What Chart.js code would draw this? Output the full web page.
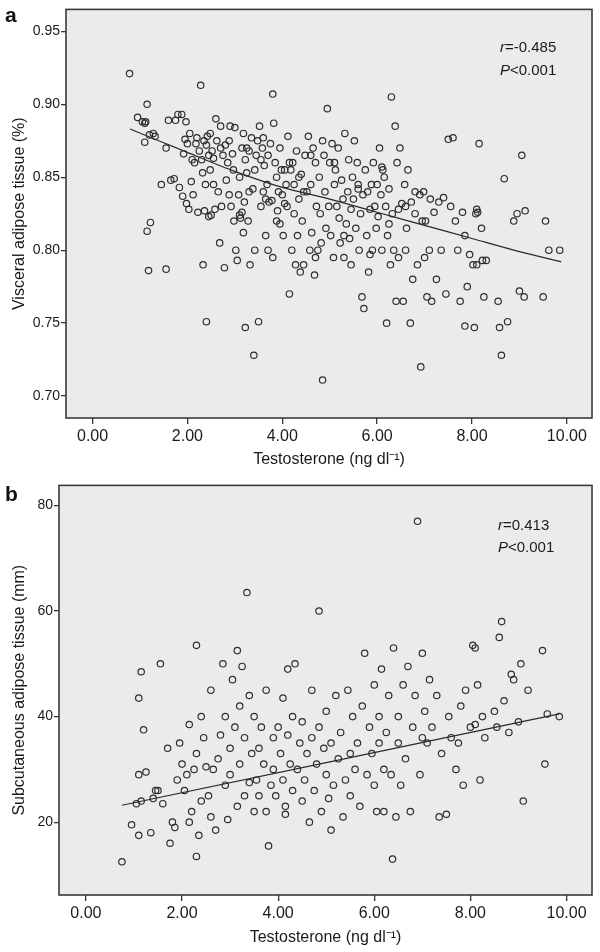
<!DOCTYPE html>
<html>
<head>
<meta charset="utf-8">
<script src="https://cdn.jsdelivr.net/npm/chart.js@4.4.1/dist/chart.umd.min.js"></script>
<style>
  html, body { margin: 0; padding: 0; background: #ffffff; }
  #wrap { position: relative; width: 600px; height: 952px; }
  canvas { position: absolute; left: 0; }
</style>
</head>
<body>
<div id="wrap">
  <canvas id="ca" width="600" height="476" style="top:0px"></canvas>
  <canvas id="cb" width="600" height="476" style="top:476px"></canvas>
</div>
<script>
// ---------- DATA ----------
const xTicks = [0, 2, 4, 6, 8, 10];
const yTicksA = [0.70, 0.75, 0.80, 0.85, 0.90, 0.95];
const yTicksB = [20, 40, 60, 80];

// Panel a: testosterone vs visceral adipose tissue (%)
const visceral = [
  [0.78,0.921],[0.95,0.891],
  [1.05,0.888],[1.10,0.887],[1.12,0.888],[1.15,0.900],[1.20,0.879],[1.28,0.880],[1.32,0.878],[1.10,0.874],[1.15,0.813],[1.22,0.819],[1.18,0.786],[1.45,0.845],
  [1.55,0.787],[1.55,0.870],[1.60,0.889],[1.65,0.848],[1.72,0.849],[1.75,0.889],[1.80,0.893],[1.88,0.893],[1.83,0.843],[1.90,0.837],[1.92,0.866],[1.95,0.876],[1.98,0.832],[1.97,0.888],
  [2.00,0.873],[2.03,0.828],[2.05,0.880],[2.08,0.847],[2.10,0.862],[2.12,0.838],[2.15,0.860],[2.18,0.873],[2.20,0.877],[2.22,0.826],[2.25,0.868],[2.28,0.913],[2.30,0.862],[2.32,0.853],[2.33,0.790],[2.35,0.875],[2.36,0.827],[2.38,0.845],[2.40,0.751],[2.40,0.872],[2.42,0.878],[2.45,0.823],[2.45,0.865],[2.48,0.880],[2.48,0.855],[2.50,0.824],
  [2.52,0.868],[2.55,0.863],[2.58,0.828],[2.60,0.890],[2.62,0.875],[2.65,0.840],[2.68,0.805],[2.70,0.885],[2.72,0.830],[2.75,0.865],[2.78,0.788],[2.80,0.872],[2.82,0.848],[2.85,0.860],[2.88,0.838],[2.90,0.885],[2.92,0.830],[2.95,0.866],[2.98,0.820],[2.97,0.855],[2.55,0.845],[2.70,0.870],[2.88,0.875],
  [3.00,0.884],[3.02,0.800],[3.05,0.793],[3.08,0.838],[3.10,0.824],[3.12,0.822],[3.15,0.826],[3.15,0.870],[3.18,0.880],[3.20,0.833],[3.22,0.747],[3.22,0.862],[3.25,0.853],[3.28,0.820],[3.30,0.868],[3.32,0.790],[3.35,0.877],[3.38,0.842],[3.40,0.728],[3.42,0.800],[3.45,0.865],[3.48,0.875],[3.50,0.751],[3.10,0.850],[3.18,0.812],[3.30,0.840],[3.42,0.855],[3.25,0.870],
  [3.52,0.885],[3.55,0.862],[3.58,0.870],[3.60,0.840],[3.62,0.858],[3.65,0.835],[3.68,0.845],[3.70,0.865],[3.72,0.833],[3.75,0.873],[3.78,0.834],[3.80,0.907],[3.82,0.887],[3.85,0.860],[3.88,0.850],[3.90,0.827],[3.92,0.840],[3.95,0.818],[3.98,0.855],[3.55,0.830],[3.65,0.810],[3.70,0.800],[3.80,0.795],[3.88,0.820],[3.95,0.870],[3.60,0.877],
  [4.00,0.838],[4.02,0.810],[4.05,0.832],[4.08,0.845],[4.10,0.830],[4.12,0.878],[4.15,0.770],[4.18,0.855],[4.20,0.800],[4.22,0.860],[4.25,0.845],[4.28,0.790],[4.30,0.868],[4.32,0.810],[4.35,0.835],[4.38,0.785],[4.40,0.852],[4.42,0.820],[4.45,0.790],[4.48,0.865],[4.05,0.855],[4.15,0.860],[4.25,0.825],[4.35,0.850],[4.45,0.840],
  [4.52,0.840],[4.55,0.878],[4.58,0.800],[4.60,0.845],[4.62,0.812],[4.65,0.870],[4.68,0.783],[4.70,0.860],[4.72,0.830],[4.75,0.800],[4.78,0.850],[4.80,0.825],[4.82,0.805],[4.85,0.711],[4.88,0.865],[4.90,0.840],[4.92,0.815],[4.95,0.897],[4.98,0.830],[4.60,0.865],[4.70,0.795],[4.85,0.875],
  [5.00,0.860],[5.02,0.810],[5.05,0.873],[5.08,0.795],[5.10,0.845],[5.12,0.855],[5.15,0.830],[5.18,0.870],[5.20,0.822],[5.22,0.805],[5.25,0.848],[5.28,0.835],[5.30,0.795],[5.32,0.880],[5.35,0.818],[5.38,0.840],[5.40,0.862],[5.42,0.808],[5.45,0.828],[5.48,0.850],[5.10,0.860],[5.30,0.810],[5.45,0.790],
  [5.50,0.835],[5.52,0.875],[5.55,0.815],[5.58,0.860],[5.60,0.842],[5.62,0.800],[5.65,0.825],[5.68,0.768],[5.70,0.838],[5.72,0.760],[5.75,0.855],[5.78,0.810],[5.80,0.840],[5.82,0.785],[5.85,0.828],[5.88,0.845],[5.90,0.800],[5.92,0.860],[5.95,0.830],[5.98,0.815],[5.60,0.845],[5.85,0.797],
  [6.00,0.845],[6.02,0.823],[6.05,0.870],[6.08,0.838],[6.10,0.857],[6.12,0.855],[6.15,0.850],[6.18,0.830],[6.20,0.750],[6.22,0.810],[6.25,0.842],[6.28,0.790],[6.30,0.905],[6.32,0.825],[6.35,0.800],[6.38,0.885],[6.40,0.765],[6.42,0.860],[6.45,0.828],[6.48,0.870],[6.10,0.800],[6.25,0.818],[6.45,0.795],
  [6.52,0.832],[6.55,0.765],[6.58,0.845],[6.60,0.830],[6.62,0.815],[6.65,0.855],[6.70,0.750],[6.72,0.833],[6.75,0.780],[6.80,0.840],[6.85,0.790],[6.90,0.838],[6.92,0.720],[6.95,0.820],[6.98,0.840],[6.60,0.800],[6.80,0.825],
  [7.00,0.795],[7.02,0.820],[7.05,0.768],[7.10,0.800],[7.12,0.835],[7.15,0.765],[7.20,0.826],[7.25,0.780],[7.30,0.833],[7.35,0.800],[7.40,0.836],[7.45,0.770],
  [7.50,0.876],[7.55,0.830],[7.60,0.877],[7.65,0.820],[7.70,0.800],[7.75,0.765],[7.80,0.826],[7.85,0.810],[7.90,0.775],[7.95,0.797],[7.85,0.748],
  [8.02,0.790],[8.05,0.747],[8.08,0.825],[8.10,0.828],[8.12,0.826],[8.15,0.873],[8.20,0.815],[8.22,0.793],[8.25,0.768],[8.30,0.793],[8.10,0.790],
  [8.55,0.765],[8.58,0.747],[8.62,0.728],[8.68,0.849],[8.75,0.751],[8.88,0.820],[8.95,0.825],
  [9.00,0.772],[9.05,0.865],[9.10,0.768],[9.12,0.827],[9.50,0.768],[9.55,0.820],[9.62,0.800],[9.85,0.800]
];
const fitA = [[0.79,0.883],[2.0,0.867],[3.0,0.854],[4.0,0.843],[5.0,0.835],[6.0,0.826],[7.0,0.817],[8.0,0.808],[9.0,0.799],[9.88,0.792]];

// Panel b: testosterone vs subcutaneous adipose tissue (mm)
const subcut = [
  [0.75,12.5],[2.30,13.5],[6.38,13.0],
  [0.95,19.5],[1.05,23.5],[1.10,29.0],[1.15,24.0],[1.10,17.5],[1.15,48.5],[1.10,43.5],[1.20,37.5],[1.25,29.5],[1.35,18.0],[1.40,24.5],[1.45,26.0],[1.55,50.0],[1.50,26.0],[1.60,23.5],[1.70,34.0],[1.75,16.0],[1.80,20.0],[1.85,19.0],[1.90,28.0],[1.95,35.0],
  [2.00,31.0],[2.05,26.0],[2.10,29.0],[2.15,20.0],[2.15,38.5],[2.20,22.0],[2.25,30.0],[2.30,53.5],[2.30,33.0],[2.35,17.5],[2.40,24.0],[2.40,40.0],[2.45,36.0],[2.50,30.5],[2.55,25.0],[2.60,21.0],[2.60,45.0],[2.65,30.0],[2.70,18.5],[2.75,32.0],[2.80,36.5],[2.85,50.0],[2.90,40.0],[2.90,27.0],[2.95,20.5],
  [3.00,34.0],[3.00,29.0],[3.05,47.0],[3.10,38.0],[3.15,23.0],[3.15,52.5],[3.20,31.0],[3.20,42.0],[3.25,49.5],[3.30,25.0],[3.30,36.0],[3.35,63.5],[3.40,44.0],[3.40,27.5],[3.45,33.0],[3.50,22.0],[3.50,40.0],[3.55,28.0],[3.60,34.0],[3.60,25.0],[3.65,38.0],[3.70,31.0],[3.75,22.0],[3.75,45.0],[3.80,15.5],[3.85,27.0],[3.90,36.0],[3.90,30.0],[3.95,25.0],
  [4.00,38.0],[4.05,33.0],[4.10,43.5],[4.10,28.0],[4.15,23.0],[4.15,21.5],[4.20,36.5],[4.20,49.0],[4.25,31.0],[4.30,40.0],[4.30,26.0],[4.35,50.0],[4.40,30.0],[4.45,35.0],[4.50,24.0],[4.50,39.0],[4.55,28.0],[4.60,33.0],[4.65,20.0],[4.70,36.0],[4.70,45.0],[4.75,26.0],[4.80,31.0],[4.85,60.0],[4.85,38.0],[4.90,22.0],[4.95,34.0],
  [5.00,29.0],[5.00,41.0],[5.05,24.5],[5.10,35.0],[5.10,18.5],[5.15,27.0],[5.20,44.0],[5.25,32.0],[5.30,37.0],[5.35,21.0],[5.40,28.0],[5.45,45.0],[5.50,33.0],[5.50,25.0],[5.55,40.0],[5.60,30.0],[5.65,35.0],[5.70,23.0],[5.75,42.0],[5.80,52.0],[5.85,29.0],[5.90,38.0],[5.95,33.0],
  [6.00,46.0],[6.00,27.0],[6.05,22.0],[6.10,40.0],[6.10,35.0],[6.15,49.0],[6.20,30.0],[6.20,22.0],[6.25,37.0],[6.30,44.0],[6.35,29.0],[6.40,53.0],[6.45,21.0],[6.50,35.0],[6.50,40.0],[6.55,27.0],[6.60,46.0],[6.65,32.0],[6.70,49.5],[6.75,22.0],[6.80,38.0],[6.85,44.0],[6.90,77.0],[6.95,29.0],
  [7.00,36.0],[7.00,52.0],[7.05,41.0],[7.10,35.0],[7.15,47.0],[7.20,38.0],[7.30,44.0],[7.35,21.0],[7.40,33.0],[7.50,21.5],[7.55,40.0],[7.60,36.0],[7.70,30.0],[7.75,35.0],[7.80,42.0],[7.85,27.0],[7.90,45.0],
  [8.00,38.0],[8.05,53.5],[8.10,53.0],[8.10,38.5],[8.15,46.0],[8.20,28.0],[8.25,40.0],[8.30,36.0],[8.50,41.0],[8.55,38.0],[8.60,55.0],[8.65,58.0],[8.70,43.0],[8.80,37.0],[8.85,48.0],[8.90,47.0],
  [9.00,39.0],[9.05,50.0],[9.10,24.0],[9.20,45.0],[9.50,52.5],[9.55,31.0],[9.60,40.5],[9.85,40.0]
];
const fitB = [[0.75,23.2],[9.85,40.5]];

// ---------- HELPERS ----------
const FONT = "'Liberation Sans', Arial, Helvetica, sans-serif";
const toPts = arr => arr.map(p => ({x: p[0], y: p[1]}));

function boxPlugin(opts) {
  return {
    id: 'box' + opts.key,
    beforeDatasetsDraw(chart) {
      const a = chart.chartArea, c = chart.ctx;
      c.save();
      c.fillStyle = '#ebebeb';
      c.fillRect(a.left, a.top, a.right - a.left, a.bottom - a.top);
      c.restore();
    },
    afterDraw(chart) {
      const a = chart.chartArea, c = chart.ctx;
      c.save();
      c.strokeStyle = '#3a3a3a';
      c.lineWidth = 1.6;
      c.strokeRect(a.left, a.top, a.right - a.left, a.bottom - a.top);
      c.fillStyle = '#111';
      c.font = 'bold 21px ' + FONT;
      c.textBaseline = 'alphabetic';
      c.textAlign = 'left';
      c.fillText(opts.letter, 5, opts.letterY);
      c.font = '16px ' + FONT;
      c.textAlign = 'center';
      c.fillStyle = '#1a1a1a';
      c.fillText('Testosterone (ng dl\u207B\u00B9)', (a.left + a.right) / 2, opts.xTitleY);
      c.save();
      c.translate(opts.yTitleX, (a.top + a.bottom) / 2);
      c.rotate(-Math.PI / 2);
      c.fillText(opts.yTitle, 0, 0);
      c.restore();
      c.textAlign = 'left';
      const x0 = opts.annX;
      c.font = 'italic 15px ' + FONT;
      c.fillText('r', x0, opts.annY1);
      let w = c.measureText('r').width;
      c.font = '15px ' + FONT;
      c.fillText(opts.rText, x0 + w, opts.annY1);
      c.font = 'italic 15px ' + FONT;
      c.fillText('P', x0, opts.annY2);
      w = c.measureText('P').width;
      c.font = '15px ' + FONT;
      c.fillText('<0.001', x0 + w, opts.annY2);
      c.restore();
    }
  };
}

function makeChart(id, pts, fit, o) {
  return new Chart(document.getElementById(id), {
    type: 'scatter',
    data: {
      datasets: [
        {
          data: toPts(pts),
          pointRadius: 3.2,
          pointHoverRadius: 3.2,
          pointBorderWidth: 1.2,
          borderColor: '#2e2e2e',
          backgroundColor: 'rgba(0,0,0,0)',
          pointBackgroundColor: 'rgba(0,0,0,0)'
        },
        {
          type: 'line',
          data: toPts(fit),
          borderColor: '#2a2a2a',
          borderWidth: 1.2,
          pointRadius: 0,
          fill: false,
          tension: 0.3
        }
      ]
    },
    options: {
      responsive: false,
      animation: false,
      devicePixelRatio: 1,
      events: [],
      layout: { padding: { top: o.padTop, right: 8, left: 0, bottom: 0 } },
      plugins: { legend: { display: false }, tooltip: { enabled: false } },
      scales: {
        x: {
          type: 'linear',
          min: -0.56, max: 10.53,
          afterBuildTicks: s => { s.ticks = xTicks.map(v => ({value: v})); },
          afterFit: s => { s.height = o.xAxisH; },
          grid: { display: true, drawOnChartArea: false, drawTicks: true, tickLength: 6, color: '#333', lineWidth: 1.3 },
          border: { display: false },
          ticks: { color: '#1a1a1a', font: { family: FONT, size: 16 }, padding: 3, maxRotation: 0,
                   callback: v => Number(v).toFixed(2) }
        },
        y: {
          type: 'linear',
          min: o.yMin, max: o.yMax,
          afterBuildTicks: s => { s.ticks = o.yTicks.map(v => ({value: v})); },
          afterFit: s => { s.width = o.yAxisW; },
          grid: { display: true, drawOnChartArea: false, drawTicks: true, tickLength: 5, color: '#333', lineWidth: 1.3 },
          border: { display: false },
          ticks: { color: '#1a1a1a', font: { family: FONT, size: 14 }, padding: 1,
                   callback: v => o.fmt(v) }
        }
      }
    },
    plugins: [boxPlugin(o)]
  });
}

makeChart('ca', visceral, fitA, {
  key: 'a', letter: 'a', letterY: 22, padTop: 6, xAxisH: 58, yAxisW: 66,
  yMin: 0.685, yMax: 0.965, yTicks: yTicksA, fmt: v => Number(v).toFixed(2),
  xTitleY: 464, yTitleX: 24, yTitle: 'Visceral adipose tissue (%)',
  annX: 500, annY1: 52, annY2: 75, rText: '=-0.485'
});
makeChart('cb', subcut, fitB, {
  key: 'b', letter: 'b', letterY: 25, padTop: 9, xAxisH: 57, yAxisW: 59,
  yMin: 6.2, yMax: 83.8, yTicks: yTicksB, fmt: v => String(Math.round(v)),
  xTitleY: 466, yTitleX: 24, yTitle: 'Subcutaneous adipose tissue (mm)',
  annX: 498, annY1: 54, annY2: 76, rText: '=0.413'
});
</script>
</body>
</html>
